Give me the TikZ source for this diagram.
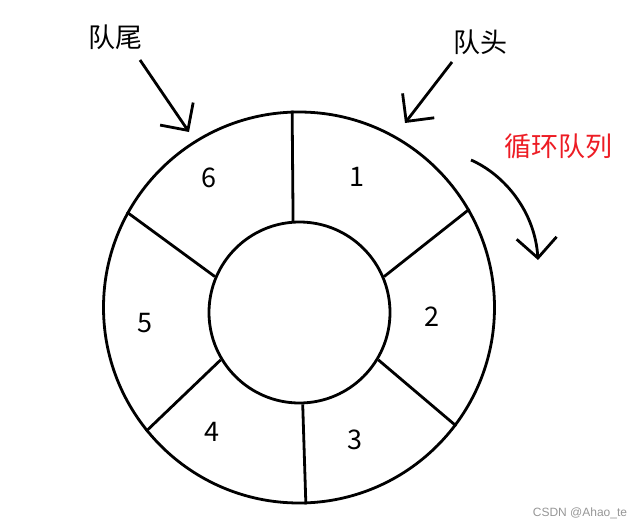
\documentclass[tikz,border=0pt]{standalone}
\usepackage{fontspec}
\newfontfamily\cjk{Noto Sans CJK SC}
\newfontfamily\marksf{Liberation Sans}
\usetikzlibrary{arrows.meta}
\definecolor{queuered}{RGB}{237,28,36}
\definecolor{markgray}{RGB}{150,150,150}
\tikzset{
	ring/.style={draw, circle, line width=2.8pt, inner sep=0pt},
	spoke/.style={line width=2.8pt},
	slot/.style={font=\cjk\fontsize{27}{30}\selectfont},
	pointer/.style={line width=2.8pt, -{Straight Barb[length=20pt,width=40pt]}},
}
\begin{document}
\begin{tikzpicture}[x=1pt, y=-1pt]
	\useasboundingbox (0,0) rectangle (643,530);

	    \node[ring, minimum size=391pt] (outer) at (299,307.5) {};
	    \node[ring, minimum size=181pt] (inner) at (299.5,312.5) {};

	    \draw[spoke] (inner.94) -- (outer.92);
	    \draw[spoke] (inner.23) -- (outer.30);
	    \draw[spoke] (inner.-31) -- (outer.-37);
	    \draw[spoke] (inner.-88) -- (outer.-88);
	    \draw[spoke] (inner.211) -- (outer.219);
	    \draw[spoke] (inner.157) -- (outer.151);

	    \node[slot] (s1) at (357,177) {1};
	    \node[slot] (s2) at (432,317) {2};
	    \node[slot] (s3) at (355,440) {3};
	    \node[slot] (s4) at (212,432) {4};
	    \node[slot] (s5) at (145,323) {5};
	    \node[slot] (s6) at (209,178) {6};

	    \node[slot] (tail) at (115,37) {队尾};
	    \node[slot] (head) at (480,42) {队头};
	    \node[slot, text=queuered] (loop) at (558,146) {循环队列};

	    \coordinate (tailFrom) at (140,60);
	    \coordinate (tailTo) at (189,132);
	    \coordinate (headFrom) at (452,62);
	    \coordinate (headTo) at (405,123);
	    \coordinate (turnFrom) at (471,160);
	    \coordinate (turnTo) at (538,260);

	    \draw[pointer] (tailFrom) -- (tailTo);
	    \draw[pointer] (headFrom) -- (headTo);
	    \draw[pointer] (turnFrom) .. controls (505,175) and (535,212) .. (turnTo);

	    \node[font=\marksf\fontsize{12}{14}\selectfont, text=markgray] (mark) at (580,513) {CSDN @Ahao\_te};

\end{tikzpicture}
\end{document}
